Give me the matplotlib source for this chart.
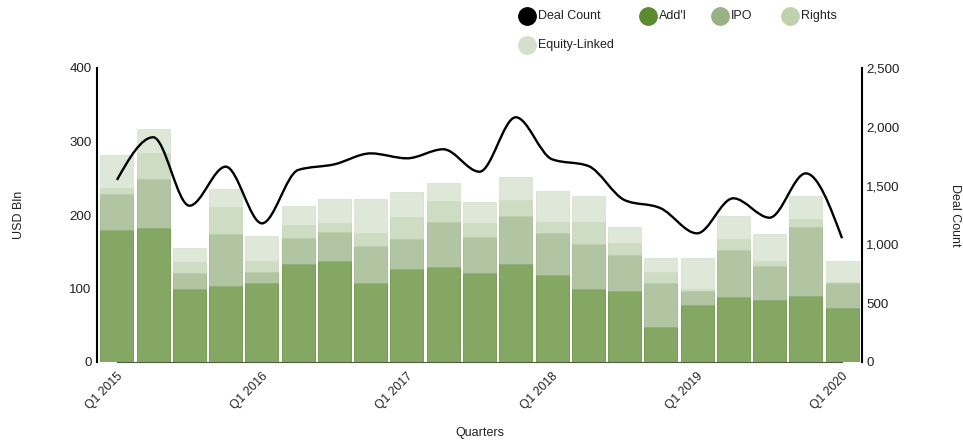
import numpy as np
import matplotlib
matplotlib.use("Agg")
import matplotlib.pyplot as plt
from matplotlib.path import Path
from matplotlib.patches import PathPatch
from matplotlib.lines import Line2D
from matplotlib.colors import to_rgba
from matplotlib.transforms import ScaledTranslation

plt.rcParams["font.family"] = ["Liberation Sans", "DejaVu Sans"]

quarters = [f"Q{q} {y}" for y in range(2015, 2020) for q in range(1, 5)] + ["Q1 2020"]

# USD Bln per quarter, stacked
addl = [180, 182, 99, 104, 107, 134, 137, 107, 127, 129, 121, 134, 119, 99, 96, 47, 77, 88, 85, 90, 73]
ipo = [49, 67, 22, 70, 15, 35, 40, 51, 41, 62, 49, 65, 56, 61, 50, 60, 19, 64, 46, 93, 34]
rights = [8, 35, 15, 37, 16, 17, 12, 17, 29, 28, 19, 21, 16, 31, 16, 15, 4, 16, 7, 12, 2]
equity_linked = [44, 33, 19, 24, 33, 26, 33, 47, 34, 25, 29, 32, 42, 35, 22, 19, 41, 31, 36, 31, 29]

deal_count = [1548, 1911, 1329, 1661, 1179, 1633, 1681, 1774, 1732, 1809, 1618, 2081,
              1724, 1667, 1377, 1307, 1094, 1392, 1227, 1604, 1052]

series = [
    ("Add'l", addl, "#5b8a2f"),
    ("IPO", ipo, "#98b283"),
    ("Rights", rights, "#c0d1b0"),
    ("Equity-Linked", equity_linked, "#d5dfcb"),
]

TXT = "#222222"


def monotone_path(x, y):
    # d3 curveMonotoneX as cubic bezier segments
    x = np.asarray(x, float)
    y = np.asarray(y, float)
    n = len(x)
    h = np.diff(x)
    s = np.diff(y) / h
    t = np.zeros(n)
    for i in range(1, n - 1):
        p = (s[i - 1] * h[i] + s[i] * h[i - 1]) / (h[i - 1] + h[i])
        t[i] = (np.sign(s[i - 1]) + np.sign(s[i])) * min(abs(s[i - 1]), abs(s[i]), 0.5 * abs(p))
    t[0] = (3 * s[0] - t[1]) / 2
    t[-1] = (3 * s[-1] - t[-2]) / 2
    verts = [(x[0], y[0])]
    codes = [Path.MOVETO]
    for i in range(n - 1):
        dx = (x[i + 1] - x[i]) / 3
        verts += [(x[i] + dx, y[i] + dx * t[i]),
                  (x[i + 1] - dx, y[i + 1] - dx * t[i + 1]),
                  (x[i + 1], y[i + 1])]
        codes += [Path.CURVE4] * 3
    return Path(verts, codes)


W, H = 963, 441
fig = plt.figure(figsize=(W / 100, H / 100), dpi=100)
ax = fig.add_axes([97 / W, 79 / H, 765 / W, 294 / H])
ax2 = ax.twinx()

idx = np.arange(len(quarters))
bottom = np.zeros(len(quarters))
for name, vals, color in series:
    ax.bar(idx, vals, width=0.91, bottom=bottom,
           color=to_rgba(color, 0.75), edgecolor=to_rgba(color, 0.85), linewidth=0.6, zorder=2)
    bottom += np.array(vals)

ax.set_xlim(-0.55, len(quarters) - 0.45)
ax.set_ylim(0, 400)
ax.set_yticks([0, 100, 200, 300, 400])
ax.set_xticks(idx[::4])
ax.set_xticklabels(quarters[::4], rotation=45, ha="right", rotation_mode="anchor")
shift = ScaledTranslation(5 / 100, 0, fig.dpi_scale_trans)
for lab in ax.get_xticklabels():
    lab.set_transform(lab.get_transform() + shift)

ax2.add_patch(PathPatch(monotone_path(idx, deal_count), fill=False, edgecolor="black",
                        linewidth=1.7, zorder=3))
ax2.set_ylim(0, 2500)
ax2.set_yticks([0, 500, 1000, 1500, 2000, 2500])
ax2.set_yticklabels(["0", "500", "1,000", "1,500", "2,000", "2,500"])

for a in (ax, ax2):
    a.spines["top"].set_visible(False)
    a.tick_params(length=0, labelsize=9.6, colors=TXT)
ax.tick_params(axis="x", pad=6, labelsize=8.8)
ax.tick_params(axis="y", pad=4)
ax2.tick_params(axis="y", pad=3)
ax.spines["right"].set_visible(False)
ax2.spines["left"].set_visible(False)
ax2.spines["bottom"].set_visible(False)
ax.spines["left"].set_linewidth(1.5)
ax2.spines["right"].set_linewidth(1.5)
ax.spines["bottom"].set_bounds(0, len(quarters) - 1)
ax.spines["bottom"].set_color("#4f5e42")
ax.spines["bottom"].set_zorder(3)

ax.set_ylabel("USD Bln", fontsize=9, color=TXT)
ax.yaxis.set_label_coords(-0.094, 0.5)
ax2.set_ylabel("Deal Count", fontsize=9, color=TXT, rotation=270, va="center")
ax2.yaxis.set_label_coords(1.1216, 0.5)
ax.set_xlabel("Quarters", fontsize=9, color=TXT)
ax.xaxis.set_label_coords(0.5007, -0.221)

# legend laid out by hand like the original (circle + label), pixel positions
legend_items = [("Deal Count", "black", 527, 16)]
legend_items += [(name, color, px, py) for (name, vals, color), (px, py)
                 in zip(series, [(648, 16), (720, 16), (790, 16), (527, 45)])]
for label, color, px, py in legend_items:
    fig.add_artist(Line2D([px / W], [1 - py / H], transform=fig.transFigure,
                          linestyle="none", marker="o", markersize=12.5, color=color))
    fig.text((px + 11) / W, 1 - py / H, label, fontsize=9, color=TXT, va="center", ha="left")

fig.savefig("out.png", dpi=100)
